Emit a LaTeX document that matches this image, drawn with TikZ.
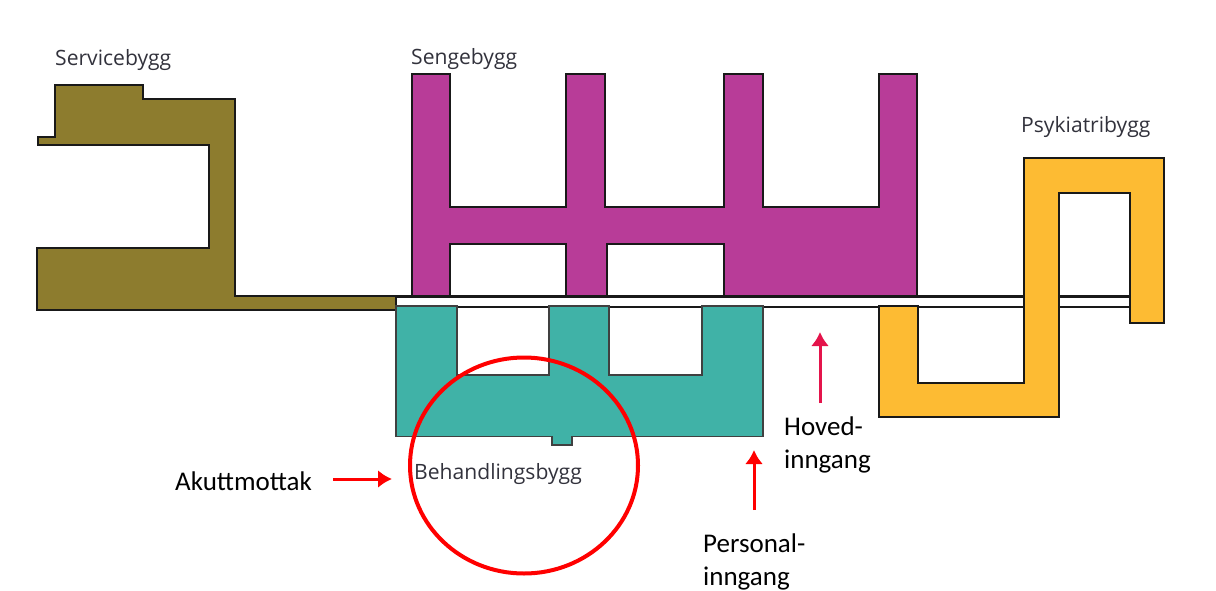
\documentclass[tikz,border=0pt]{standalone}
\usepackage{fontspec}
\usetikzlibrary{arrows.meta}
\setmainfont{Carlito}
\newfontfamily\planfont{Open Sans}
\definecolor{servicecol}{RGB}{141,124,46}
\definecolor{sengecol}{RGB}{184,60,152}
\definecolor{behandlingcol}{RGB}{64,178,167}
\definecolor{psykiatricol}{RGB}{253,187,51}
\definecolor{labelcol}{RGB}{50,50,60}
\definecolor{hovedcol}{RGB}{228,20,75}
\tikzset{
	plan/.style={draw=black!90,line width=2.6pt,line join=miter},
	buildlabel/.style={anchor=west,inner sep=0pt,font=\planfont\fontsize{21.1}{21.1}\selectfont,text=labelcol},
	signlabel/.style={anchor=west,inner sep=0pt,align=left,font=\fontsize{27}{33}\selectfont},
	signarrow/.style={red,line width=3pt,-{Latex[length=14pt,width=18pt]}}
}
\begin{document}
\begin{tikzpicture}[x=1pt,y=-1pt]
\useasboundingbox (0,0) rectangle (1216,590);

% corridor
\draw[plan] (396,296.5) -- (1130,296.5);
\draw[plan] (396,307) -- (1130,307);

% Servicebygg
\filldraw[plan,fill=servicecol] (55,85) -- (143,85) -- (143,99) -- (235,99) -- (235,296) -- (396,296) -- (396,310) -- (37,310) -- (37,248) -- (209,248) -- (209,145) -- (38,145) -- (38,137) -- (55,137) -- cycle;

% Sengebygg
\filldraw[plan,fill=sengecol] (412,74) -- (450,74) -- (450,207) -- (566,207) -- (566,74) -- (605,74) -- (605,207) -- (724,207) -- (724,74) -- (763,74) -- (763,207) -- (879,207) -- (879,74) -- (917,74) -- (917,296) -- (724,296) -- (724,244) -- (607,244) -- (607,296) -- (566,296) -- (566,244) -- (450,244) -- (450,296) -- (412,296) -- cycle;

% Behandlingsbygg
\filldraw[plan,line width=1.7pt,draw=black!75,fill=behandlingcol] (396,306) -- (457,306) -- (457,375) -- (549,375) -- (549,306) -- (609,306) -- (609,375) -- (702,375) -- (702,306) -- (763,306) -- (763,436.5) -- (572,436.5) -- (572,445) -- (552,445) -- (552,436.5) -- (396,436.5) -- cycle;

% Psykiatribygg
\filldraw[plan,fill=psykiatricol] (1024,158) -- (1164,158) -- (1164,323) -- (1130,323) -- (1130,193) -- (1059,193) -- (1059,417) -- (879,417) -- (879,306) -- (918,306) -- (918,383) -- (1024,383) -- cycle;

% labels
\node[buildlabel] (service) at (55,60) {Servicebygg};
\node[buildlabel] (senge) at (411,59) {Sengebygg};
\node[buildlabel] (psykiatri) at (1021,127) {Psykiatribygg};
\node[buildlabel] (behandling) at (414,474) {Behandlingsbygg};

% akuttmottak
\draw[red,line width=4pt] (524,465.5) ellipse [x radius=114,y radius=108];
\node[signlabel] (akutt) at (175,481) {Akuttmottak};
\coordinate (akuttstart) at (333,479);
\coordinate (akuttend) at (392,479);
\draw[signarrow] (akuttstart) -- (akuttend);

% entrances
\node[signlabel] (hoved) at (784,445) {Hoved-\\inngang};
\coordinate (hovedstart) at (820,403);
\coordinate (hovedend) at (820,332);
\draw[signarrow,hovedcol] (hovedstart) -- (hovedend);
\node[signlabel] (personal) at (703,562) {Personal-\\inngang};
\coordinate (personalstart) at (754,510);
\coordinate (personalend) at (754,450);
\draw[signarrow] (personalstart) -- (personalend);
\end{tikzpicture}
\end{document}
